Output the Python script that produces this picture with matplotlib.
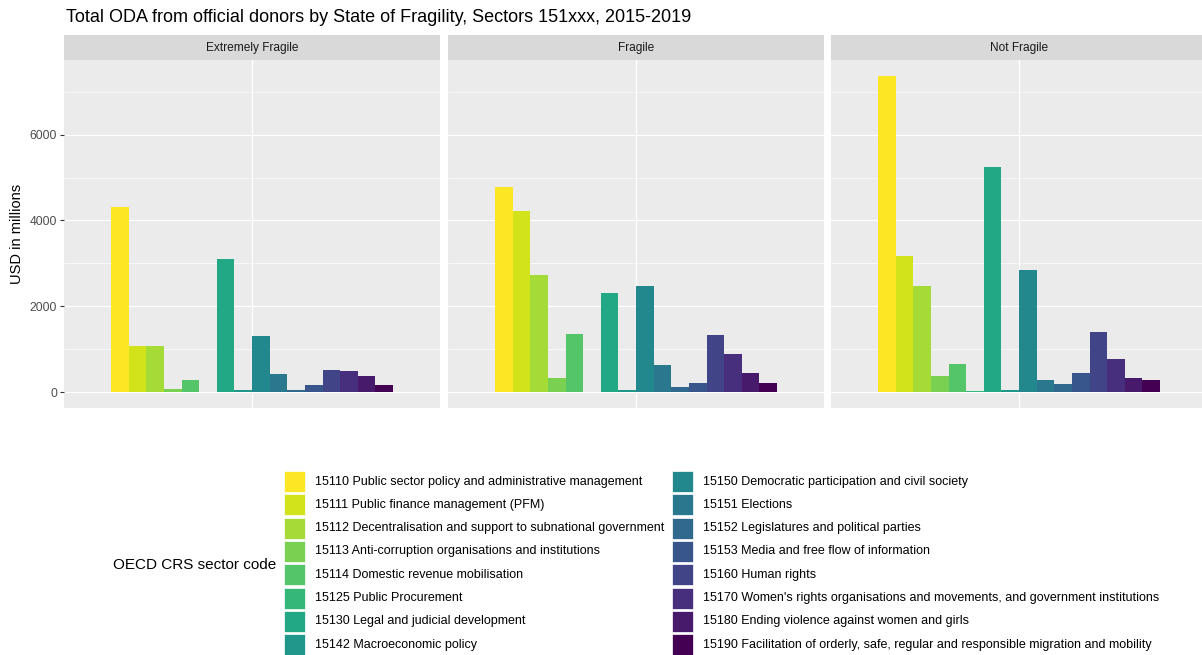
import numpy as np
import matplotlib
matplotlib.use("Agg")
import matplotlib.pyplot as plt
from matplotlib.patches import Rectangle

plt.rcParams['font.family'] = ['Liberation Sans', 'DejaVu Sans']

# data (USD millions, 2015-2019)
panels = ["Extremely Fragile", "Fragile", "Not Fragile"]
codes = ["15110 Public sector policy and administrative management",
         "15111 Public finance management (PFM)",
         "15112 Decentralisation and support to subnational government",
         "15113 Anti-corruption organisations and institutions",
         "15114 Domestic revenue mobilisation",
         "15125 Public Procurement",
         "15130 Legal and judicial development",
         "15142 Macroeconomic policy",
         "15150 Democratic participation and civil society",
         "15151 Elections",
         "15152 Legislatures and political parties",
         "15153 Media and free flow of information",
         "15160 Human rights",
         "15170 Women's rights organisations and movements, and government institutions",
         "15180 Ending violence against women and girls",
         "15190 Facilitation of orderly, safe, regular and responsible migration and mobility"]
extremely_fragile = [4310, 1080, 1075, 70, 280, 0, 3110, 45, 1310, 425, 45, 160, 515, 495, 380, 160]
fragile = [4775, 4215, 2735, 325, 1360, 0, 2315, 45, 2480, 635, 115, 215, 1335, 885, 440, 215]
not_fragile = [7370, 3175, 2470, 385, 655, 20, 5235, 60, 2850, 295, 185, 440, 1395, 770, 320, 295]
values = [extremely_fragile, fragile, not_fragile]

W, H = 1202, 655
fig = plt.figure(figsize=(W / 100, H / 100), dpi=100)
colors = plt.cm.viridis(np.linspace(0, 1, len(codes)))[::-1]

n = len(codes)
bw = 0.9 / n
xs = 1 - 0.45 + bw * (np.arange(n) + 0.5)
ymax = max(max(v) for v in values)
ylim = (-0.05 * ymax, ymax * 1.05)

lefts = [64, 448, 831]
pw = 376
ptop, pbot = 60, 408
strip_h = 25

for k, name in enumerate(panels):
    ax = fig.add_axes([lefts[k] / W, 1 - pbot / H, pw / W, (pbot - ptop) / H])
    ax.set_facecolor("#EBEBEB")
    ax.bar(xs, values[k], width=bw, color=colors, linewidth=0, zorder=3)
    ax.set_xlim(0.4, 1.6)
    ax.set_ylim(*ylim)
    ax.set_yticks([0, 2000, 4000, 6000])
    ax.set_yticks([1000, 3000, 5000, 7000], minor=True)
    ax.set_xticks([1])
    ax.set_xticklabels([])
    ax.tick_params(axis="x", length=0)
    ax.grid(which="major", color="white", linewidth=0.9, zorder=0)
    ax.grid(which="minor", axis="y", color="white", linewidth=0.45, zorder=0)
    ax.tick_params(which="minor", length=0)
    for s in ax.spines.values():
        s.set_visible(False)
    if k == 0:
        ax.tick_params(axis="y", length=3, color="#333333", labelsize=8.7, labelcolor="#4D4D4D", pad=2)
        ax.set_ylabel("USD in millions", fontsize=10.5, color="black", labelpad=4)
    else:
        ax.tick_params(axis="y", length=0, labelleft=False)
    # strip
    sax = fig.add_axes([lefts[k] / W, 1 - ptop / H, pw / W, strip_h / H])
    sax.set_facecolor("#D9D9D9")
    sax.set_xticks([])
    sax.set_yticks([])
    for s in sax.spines.values():
        s.set_visible(False)
    sax.text(0.5, 0.5, name, ha="center", va="center", fontsize=8.6, color="#1A1A1A", transform=sax.transAxes)

fig.text(66 / W, 1 - 18 / H, "Total ODA from official donors by State of Fragility, Sectors 151xxx, 2015-2019",
         fontsize=13, ha="left", va="center")

# legend
fig.text(113 / W, 1 - 565 / H, "OECD CRS sector code", fontsize=11, ha="left", va="center")
key = 21
pitch = 23.3
top0 = 471
col_x = [284, 672]
for i, (lab, c) in enumerate(zip(codes, colors)):
    col, row = divmod(i, 8)
    y0 = top0 + row * pitch
    fig.patches.append(Rectangle((col_x[col] / W, 1 - (y0 + key) / H), key / W, key / H,
                                 transform=fig.transFigure, facecolor=c, edgecolor="white", linewidth=0.5))
    fig.text((col_x[col] + key + 10) / W, 1 - (y0 + key / 2) / H, lab, fontsize=9, ha="left", va="center")

fig.savefig("out.png", dpi=100, facecolor="white")
